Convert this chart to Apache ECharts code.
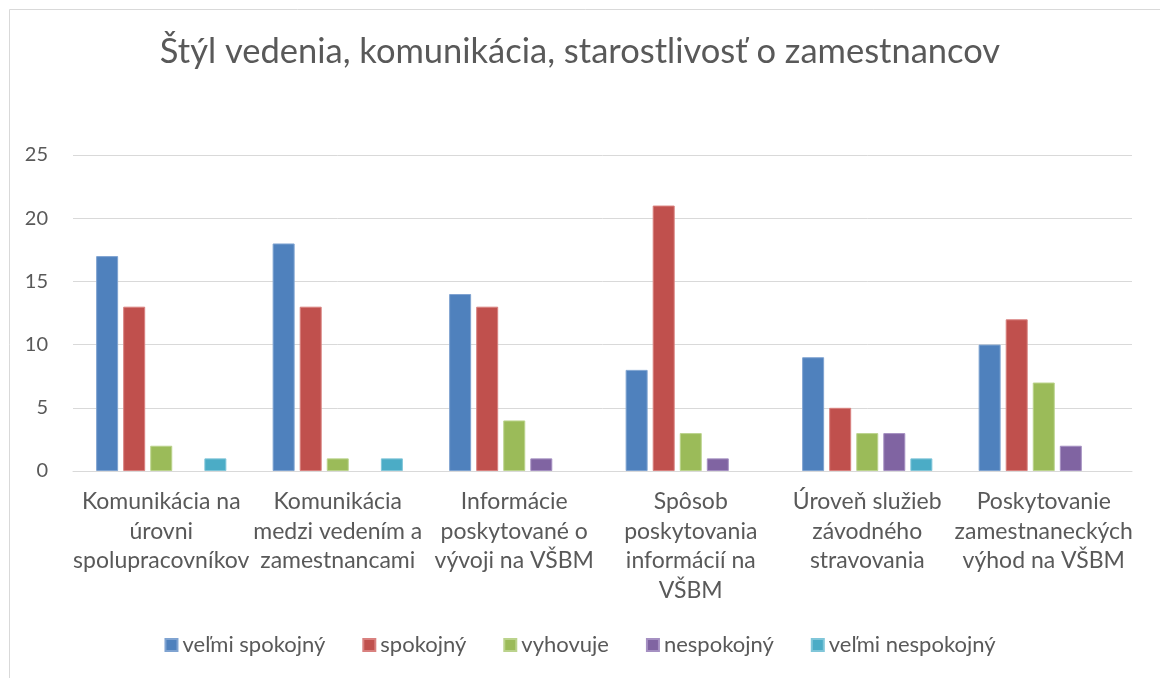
<!DOCTYPE html>
<html>
<head>
<meta charset="utf-8">
<script src="https://cdn.jsdelivr.net/npm/echarts@6/dist/echarts.min.js"></script>
<style>
  html, body { margin: 0; padding: 0; background: #fff; }
  #chart { width: 1160px; height: 678px; }
</style>
</head>
<body>
<div id="chart"></div>
<script>
// kategorie (zalomene ako v grafe)
var categories = [
    'Komunikácia na\núrovni\nspolupracovníkov',
    'Komunikácia\nmedzi vedením a\nzamestnancami',
    'Informácie\nposkytované o\nvývoji na VŠBM',
    'Spôsob\nposkytovania\ninformácií na\nVŠBM',
    'Úroveň služieb\nzávodného\nstravovania',
    'Poskytovanie\nzamestnaneckých\nvýhod na VŠBM'
];
var seriesNames = ['veľmi spokojný', 'spokojný', 'vyhovuje', 'nespokojný', 'veľmi nespokojný'];
var velmiSpokojny = [17, 18, 14, 8, 9, 10];
var spokojny = [13, 13, 13, 21, 5, 12];
var vyhovuje = [2, 1, 4, 3, 3, 7];
var nespokojny = [0, 0, 1, 1, 3, 2];
var velmiNespokojny = [1, 1, 0, 0, 1, 0];
var yTicks = [0, 5, 10, 15, 20, 25];

var colors = ['#4F81BD', '#C0504D', '#9BBB59', '#8064A2', '#4BACC6'];
var borders = ['#7FA3D1', '#D9817F', '#BBD38C', '#A590C2', '#80C6D9'];
var values = [velmiSpokojny, spokojny, vyhovuje, nespokojny, velmiNespokojny];
var fontFam = 'Lato, "Liberation Sans", sans-serif';

var myChart = echarts.init(document.getElementById('chart'), null, {renderer: 'canvas'});

var series = [];
for (var i = 0; i < seriesNames.length; i++) {
    // nulove hodnoty bez okraja, inak by bola vidno ciarku
    var data = values[i].map(function (v) {
        return v === 0 ? {value: 0, itemStyle: {borderWidth: 0}} : v;
    });
    series.push({
        name: seriesNames[i],
        type: 'bar',
        data: data,
        barWidth: 22,
        barGap: '23%',
        itemStyle: {
            color: colors[i],
            borderColor: borders[i],
            borderWidth: 1
        }
    });
}

var option = {
    backgroundColor: '#fff',
    animation: false,
    color: colors,
    title: {
        text: 'Štýl vedenia, komunikácia, starostlivosť o zamestnancov',
        left: 'center',
        top: 29,
        textStyle: {
            fontFamily: fontFam,
            fontSize: 34.5,
            fontWeight: 'normal',
            color: '#595959'
        }
    },
    legend: {
        top: 629,
        left: 'center',
        itemWidth: 12,
        itemHeight: 12,
        itemGap: 37,
        icon: 'rect',
        textStyle: {
            fontFamily: fontFam,
            fontSize: 22,
            color: '#595959'
        },
        data: seriesNames
    },
    grid: {
        left: 73,
        right: 28,
        top: 155,
        bottom: 207
    },
    xAxis: {
        type: 'category',
        data: categories,
        axisLine: {lineStyle: {color: '#D9D9D9', width: 1}},
        axisTick: {show: false},
        axisLabel: {
            interval: 0,
            margin: 16,
            fontFamily: fontFam,
            fontSize: 23,
            lineHeight: 29.5,
            color: '#595959'
        }
    },
    yAxis: {
        type: 'value',
        min: yTicks[0],
        max: yTicks[yTicks.length - 1],
        interval: 5,
        axisLine: {show: false},
        axisTick: {show: false},
        splitLine: {lineStyle: {color: '#D9D9D9', width: 1}},
        axisLabel: {
            margin: 25,
            fontFamily: fontFam,
            fontSize: 20,
            color: '#595959'
        }
    },
    graphic: [{
        type: 'rect',
        shape: {x: 9.5, y: 9.5, width: 1200, height: 700},
        style: {fill: 'none', stroke: '#D9D9D9', lineWidth: 1},
        silent: true,
        z: -1
    }],
    series: series
};

myChart.setOption(option, true);
</script>
</body>
</html>
